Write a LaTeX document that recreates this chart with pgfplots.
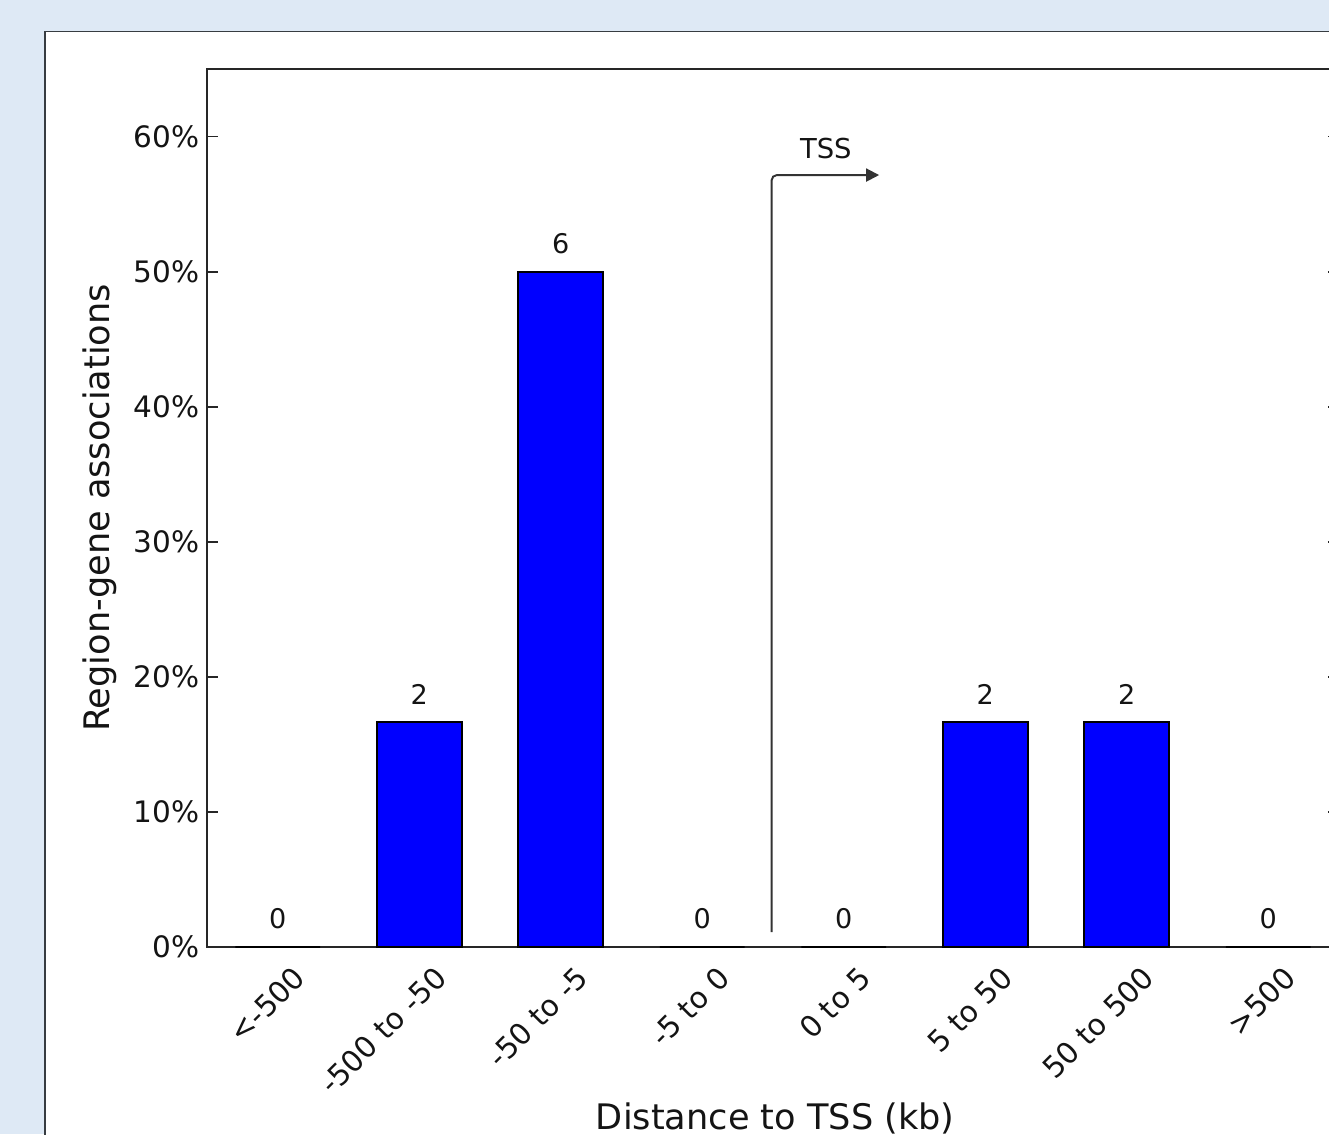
\documentclass[border=0pt]{standalone}
\usepackage{fontspec}
\setmainfont{DejaVu Sans}
\usepackage{pgfplots}
\pgfplotsset{compat=1.18}
\usetikzlibrary{arrows.meta}
\definecolor{bgblue}{RGB}{222,233,245}
\definecolor{panelborder}{RGB}{55,60,65}
\definecolor{barblue}{RGB}{0,0,255}
\begin{document}
\begin{tikzpicture}[x=1cm,y=1cm]
\useasboundingbox (0,0) rectangle (13.29,11.34);
\clip (0,0) rectangle (13.29,11.34);
\fill[bgblue] (0,0) rectangle (13.29,11.34);
\filldraw[fill=white, draw=panelborder, line width=0.45pt] (0.45,-1) rectangle (14.5,11.025);
\begin{axis}[
  at={(2.07cm,1.87cm)}, anchor=south west,
  scale only axis, width=11.32cm, height=8.78cm,
  xmin=-0.5, xmax=7.5, ymin=0, ymax=65,
  ybar, bar width=0.6,
  axis line style={line width=0.7pt, black!85},
  xtick={0,1,2,3,4,5,6,7},
  xticklabels={{<-500},{-500 to -50},{-50 to -5},{-5 to 0},{0 to 5},{5 to 50},{50 to 500},{>500}},
  xtick style={draw=none},
  ytick={0,10,20,30,40,50,60},
  yticklabels={0\%,10\%,20\%,30\%,40\%,50\%,60\%},
  ytick style={line width=0.5pt, black!85},
  major tick length=0.11cm,
  tick align=inside,
  /pgf/number format/assume math mode=true,
  tick label style={font=\fontsize{8.4}{10}\selectfont, text=black!92},
  yticklabel style={inner sep=0pt, xshift=-0.07cm},
  xticklabel style={inner sep=0pt, anchor=east, xshift=0.22cm, yshift=-0.25cm, rotate=45},
  ylabel={Region-gene associations},
  ylabel style={font=\fontsize{10}{12}\selectfont, at={(axis description cs:-0.0945,0.5)}, anchor=center, text=black!92},
  xlabel={Distance to TSS (kb)},
  xlabel style={font=\fontsize{10}{12}\selectfont, at={(axis description cs:0.502,-0.2084)}, anchor=base, text=black!92},
  point meta=explicit,
  nodes near coords,
  nodes near coords style={font=\fontsize{7.7}{9}\selectfont, inner sep=0pt, yshift=0.17cm, text=black!92},
]
\addplot[fill=barblue, draw=black, line width=0.5pt] coordinates {
  (0,0) [0]
  (1,16.6667) [2]
  (2,50) [6]
  (3,0) [0]
  (4,0) [0]
  (5,16.6667) [2]
  (6,16.6667) [2]
  (7,0) [0]
};
\draw[line width=0.55pt, black!80, rounded corners=1.5pt, -{Triangle[length=0.13cm,width=0.13cm]}]
  (axis cs:3.49,1.1) -- (axis cs:3.49,57.15) -- (axis cs:4.25,57.15);
\node[font=\fontsize{7.8}{9}\selectfont, text=black!92] at (axis cs:3.873,59.15) {TSS};
\end{axis}
\end{tikzpicture}
\end{document}
